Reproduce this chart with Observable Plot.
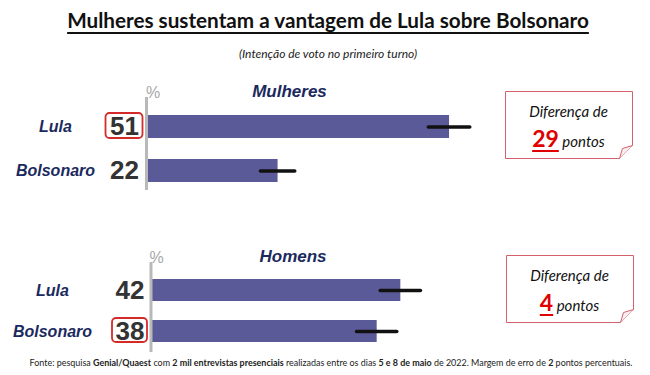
<!DOCTYPE html>
<html>
<head>
<meta charset="utf-8">
<script src="https://cdn.jsdelivr.net/npm/d3@7"></script>
<script src="https://cdn.jsdelivr.net/npm/@observablehq/plot@0.6"></script>
<style>
  html, body { margin: 0; padding: 0; background: #fff; }
  #root { position: relative; width: 650px; height: 375px; overflow: hidden; background: #fff; }
  .abs { position: absolute; }
  #title { left: 0; width: 656px; top: 10px; text-align: center; font: 700 20.7px Lato, sans-serif; line-height: 20px;
           color: #111; text-decoration: underline; text-decoration-thickness: 2px; text-underline-offset: 4px; }
  #subtitle { left: 0; width: 656px; top: 48px; text-align: center; font: italic 12px Lato, sans-serif; line-height: 12px; color: #222; }
  #footer { left: 0; width: 662px; top: 358px; text-align: center; font: 8.95px Lato, sans-serif; line-height: 10px; color: #222; white-space: nowrap; }
  #footer b { font-weight: 700; }
  .callout { width: 128px; height: 68px; }
  .callout svg { position: absolute; left: 0; top: 0; }
  .callout .l1 { position: absolute; left: 0; width: 127px; top: 11px; text-align: center; font: italic 15px Lato, sans-serif; line-height: 18px; color: #111; }
  .callout .l2 { position: absolute; left: 0; width: 127px; top: 33px; text-align: center; font: italic 15px Lato, sans-serif; line-height: 26px; color: #111; }
  .callout .l2 .num { font: 700 23px Lato, sans-serif; color: #e00000; text-decoration: underline; text-decoration-thickness: 1.5px; text-underline-offset: 3px; }
</style>
</head>
<body>
<div id="root">
  <div id="title" class="abs">Mulheres sustentam a vantagem de Lula sobre Bolsonaro</div>
  <div id="subtitle" class="abs">(Intenção de voto no primeiro turno)</div>
  <div id="footer" class="abs">Fonte: pesquisa <b>Genial/Quaest</b> com <b>2 mil entrevistas presenciais</b> realizadas entre os dias <b>5 e 8 de maio</b> de 2022. Margem de erro de <b>2</b> pontos percentuais.</div>
</div>
<script>
// ---- data ----
const panels = ["Mulheres", "Homens"];
const candidates = ["Lula", "Bolsonaro"];
const mulheresValues = [51, 22];
const homensValues = [42, 38];
const mulheresError = [3.5, 2.9];   // half-length of the drawn error bars
const homensError = [3.4, 3.4];
const highlighted = ["Lula", "Bolsonaro"]; // boxed value per panel
const diffLabel = "Diferença de";
const diffUnit = "pontos";

const valuesByPanel = [mulheresValues, homensValues];
const errorsByPanel = [mulheresError, homensError];

// ---- layout (pixels) ----
const layout = [
  {top: 80, height: 115, marginTop: 17, marginBottom: 5, marginLeft: 147.5, marginRight: 29.5, yRange: [35, 103],
   labelDx: -92.5, valueDx: -9, pctDx: 5, pctDy: -5, titleDx: 141.5, titleDy: -6, boxL: -42, boxR: 5,
   callout: {left: 505, top: 91}},
  {top: 240, height: 115, marginTop: 22, marginBottom: 3, marginLeft: 152, marginRight: 25, yRange: [38, 102],
   labelDx: -100, valueDx: -8, pctDx: 4, pctDy: -5, titleDx: 140.5, titleDy: -6, boxL: -40, boxR: 5,
   callout: {left: 506, top: 255}}
];

const root = document.getElementById("root");
const barColor = "#5b5a99";
const navy = "#1b2a5e";

panels.forEach((panel, p) => {
  const L = layout[p];
  const rows = candidates.map((c, i) => ({candidate: c, value: valuesByPanel[p][i], err: errorsByPanel[p][i]}));
  const boxed = rows.filter(d => d.candidate === highlighted[p]);

  const chart = Plot.plot({
    width: 650,
    height: L.height,
    marginTop: L.marginTop,
    marginBottom: L.marginBottom,
    marginLeft: L.marginLeft,
    marginRight: L.marginRight,
    x: {domain: [0, 80], axis: null},
    y: {domain: candidates, range: L.yRange, paddingInner: 0.47, paddingOuter: 0, axis: null},
    style: {background: "transparent", overflow: "visible"},
    marks: [
      Plot.barX(rows, {x: "value", y: "candidate", fill: barColor}),
      Plot.ruleX([0], {stroke: "#b9b9b9", strokeWidth: 3, dx: -1.5}),
      Plot.ruleY(rows, {x1: d => d.value - d.err, x2: d => d.value + d.err, y: "candidate",
                        stroke: "#111", strokeWidth: 3.6, strokeLinecap: "round"}),
      Plot.rect(boxed, {x1: 0, x2: 0, y: "candidate", insetLeft: L.boxL, insetRight: L.boxR, insetTop: -2, insetBottom: 0,
                        fill: "none", stroke: "#d42a2a", strokeWidth: 1.8, rx: 4}),
      Plot.text(rows, {x: 0, y: "candidate", text: d => String(d.value), dx: L.valueDx, textAnchor: "end",
                       fontFamily: "'Liberation Sans Narrow', 'Liberation Sans', sans-serif", fontWeight: 700,
                       fontSize: 26, fill: "#333"}),
      Plot.text(rows, {x: 0, y: "candidate", text: "candidate", dx: L.labelDx, textAnchor: "middle",
                       fontFamily: "'Liberation Sans', Arial, sans-serif", fontWeight: 700, fontStyle: "italic",
                       fontSize: 16, fill: navy}),
      Plot.text(["%"], {frameAnchor: "top-left", dx: L.pctDx, dy: L.pctDy, textAnchor: "middle", lineAnchor: "middle",
                        fontFamily: "'Liberation Sans', Arial, sans-serif", fontSize: 16, fill: "#a8a8a8"}),
      Plot.text([panel], {frameAnchor: "top-left", dx: L.titleDx, dy: L.titleDy, textAnchor: "middle", lineAnchor: "middle",
                          fontFamily: "'Liberation Sans', Arial, sans-serif", fontWeight: 700, fontStyle: "italic",
                          fontSize: 17, fill: navy})
    ]
  });
  chart.style.position = "absolute";
  chart.style.left = "0px";
  chart.style.top = L.top + "px";
  root.appendChild(chart);

  // callout box with folded corner
  const diff = valuesByPanel[p][0] - valuesByPanel[p][1];
  const box = document.createElement("div");
  box.className = "abs callout";
  box.style.left = L.callout.left + "px";
  box.style.top = L.callout.top + "px";
  const w = 127, h = 67, f = 13;
  box.innerHTML =
    `<svg width="${w + 1}" height="${h + 1}" viewBox="-0.5 -0.5 ${w + 1} ${h + 1}">` +
    `<path d="M0,0 H${w} V${h - f} L${w - f},${h} H0 Z" fill="#fff" stroke="#d4606c" stroke-width="1"/>` +
    `<path d="M${w - f},${h} L${w - f + 3},${h - f + 3} L${w},${h - f}" fill="#fbeef0" stroke="#d4606c" stroke-width="1"/>` +
    `</svg>` +
    `<div class="l1">${diffLabel}</div>` +
    `<div class="l2"><span class="num">${diff}</span> ${diffUnit}</div>`;
  root.appendChild(box);
});
</script>
</body>
</html>
